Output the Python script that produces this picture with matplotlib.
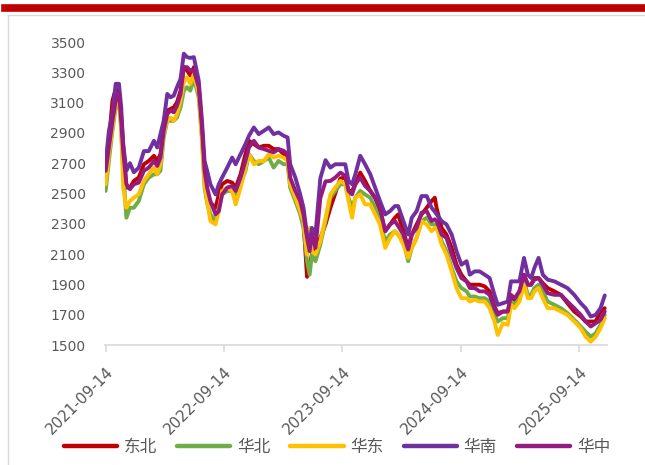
import numpy as np
import pandas as pd
import matplotlib
matplotlib.use("Agg")
import matplotlib.pyplot as plt
import matplotlib.dates as mdates
from matplotlib.lines import Line2D

# 日期（约每两周一个点）
dates = [
    "2021-09-14", "2021-09-24", "2021-10-05", "2021-10-15", "2021-10-25", "2021-11-01", "2021-11-07",
    "2021-11-17", "2021-11-28", "2021-12-10", "2021-12-25", "2022-01-10", "2022-01-25", "2022-02-10",
    "2022-02-20", "2022-03-02", "2022-03-12", "2022-03-23", "2022-04-02", "2022-04-12", "2022-04-22",
    "2022-05-03", "2022-05-13", "2022-05-23", "2022-06-02", "2022-06-13", "2022-06-28", "2022-07-08",
    "2022-07-16", "2022-07-24", "2022-08-03", "2022-08-19", "2022-08-29", "2022-09-08", "2022-09-24",
    "2022-10-09", "2022-10-20", "2022-11-04", "2022-11-19", "2022-11-30", "2022-12-15", "2022-12-30",
    "2023-01-15", "2023-01-30", "2023-02-14", "2023-03-01", "2023-03-17", "2023-03-29", "2023-04-06",
    "2023-04-22", "2023-05-07", "2023-05-17", "2023-05-28", "2023-06-05", "2023-06-12", "2023-06-23",
    "2023-07-08", "2023-07-24", "2023-08-08", "2023-08-23", "2023-09-08", "2023-09-23", "2023-10-03",
    "2023-10-14", "2023-10-24", "2023-11-08", "2023-11-23", "2023-12-09", "2023-12-24", "2024-01-08",
    "2024-01-24", "2024-02-08", "2024-02-23", "2024-03-04", "2024-03-20", "2024-04-04", "2024-04-15",
    "2024-04-30", "2024-05-15", "2024-05-31", "2024-06-15", "2024-06-25", "2024-07-01", "2024-07-16",
    "2024-07-31", "2024-08-16", "2024-08-31", "2024-09-15", "2024-10-01", "2024-10-11", "2024-10-26",
    "2024-11-10", "2024-11-26", "2024-12-11", "2024-12-26", "2025-01-05", "2025-01-21", "2025-02-05",
    "2025-02-15", "2025-02-26", "2025-03-13", "2025-03-27", "2025-04-08", "2025-04-18", "2025-04-28",
    "2025-05-11", "2025-05-24", "2025-06-08", "2025-06-29", "2025-07-19", "2025-08-08", "2025-08-29",
    "2025-09-18", "2025-10-03", "2025-10-19", "2025-11-03", "2025-11-18", "2025-12-01",
]

dongbei = [
    2583, 2848, 3113, 3190, 3168, 3002, 2826, 2539, 2539, 2583, 2605, 2693, 2715, 2749, 2715, 2760,
    2936, 3047, 3058, 3069, 3102, 3179, 3334, 3312, 3279, 3334, 3179, 2914, 2627, 2517, 2439, 2406,
    2494, 2561, 2583, 2572, 2539, 2627, 2760, 2848, 2826, 2804, 2815, 2815, 2793, 2793, 2760, 2737,
    2583, 2494, 2406, 2318, 1950, 2030, 2097, 2141,
    2207, 2296, 2406, 2500, 2600, 2605, 2517, 2517, 2561, 2638, 2583, 2517, 2472, 2384, 2251, 2296,
    2340, 2362, 2251, 2141, 2229, 2296, 2362, 2406, 2450, 2472, 2400, 2273, 2229, 2141, 2030, 1964,
    1920, 1898, 1898, 1898, 1887, 1854, 1754, 1710, 1721, 1721, 1809, 1798, 1854, 1964, 1898, 1898,
    1942, 1942, 1909, 1876, 1854, 1831, 1776, 1721, 1688, 1655, 1655, 1655, 1721, 1743,
]
huabei = [
    2517, 2715, 2914, 3069, 3113, 2914, 2650, 2340, 2406, 2406, 2450, 2561, 2605, 2627, 2627, 2650,
    2870, 2980, 2980, 2980, 3002, 3069, 3179, 3202, 3179, 3257, 3135, 2870, 2539, 2439, 2362, 2318,
    2406, 2494, 2517, 2517, 2494, 2561, 2650, 2760, 2715, 2693, 2715, 2737, 2671, 2715, 2693, 2693,
    2539, 2450, 2362, 2273, 2053, 1964, 2097, 2053,
    2163, 2318, 2472, 2517, 2561, 2561, 2472, 2406, 2472, 2517, 2494, 2472, 2406, 2318, 2185, 2229,
    2251, 2229, 2185, 2053, 2141, 2207, 2318, 2340, 2296, 2296, 2296, 2185, 2119, 2008, 1920, 1876,
    1854, 1820, 1820, 1809, 1809, 1787, 1699, 1655, 1677, 1677, 1787, 1765, 1809, 1920, 1831, 1831,
    1876, 1898, 1854, 1787, 1765, 1743, 1710, 1666, 1622, 1588, 1555, 1577, 1633, 1699,
]
huadong = [
    2561, 2760, 2936, 3091, 3135, 2936, 2539, 2406, 2450, 2472, 2494, 2583, 2627, 2671, 2627, 2693,
    2892, 2980, 3002, 2980, 3025, 3113, 3235, 3268, 3224, 3290, 3157, 2848, 2561, 2450, 2318, 2296,
    2384, 2517, 2539, 2517, 2428, 2539, 2671, 2760, 2693, 2715, 2715, 2760, 2737, 2749, 2737, 2715,
    2561, 2472, 2384, 2318, 2097, 2273, 2119, 2097,
    2185, 2340, 2494, 2539, 2583, 2561, 2450, 2340, 2472, 2494, 2428, 2428, 2362, 2296, 2141, 2207,
    2251, 2229, 2163, 2075, 2141, 2207, 2318, 2296, 2251, 2273, 2273, 2163, 2097, 1986, 1876, 1809,
    1809, 1787, 1798, 1787, 1787, 1743, 1655, 1566, 1644, 1633, 1765, 1743, 1787, 1898, 1809, 1809,
    1854, 1876, 1809, 1743, 1743, 1721, 1699, 1655, 1611, 1555, 1522, 1555, 1611, 1677,
]
huanan = [
    2700, 2914, 3025, 3224, 3224, 3069, 2826, 2650, 2700, 2640, 2670, 2780, 2780, 2848, 2804, 2892,
    2980, 3157, 3135, 3146, 3202, 3257, 3423, 3400, 3395, 3400, 3246, 2980, 2715, 2650, 2561, 2494,
    2561, 2605, 2671, 2737, 2693, 2760, 2826, 2881, 2936, 2892, 2914, 2936, 2892, 2903, 2881, 2870,
    2693, 2605, 2494, 2406, 2229, 2185, 2273, 2229,
    2600, 2720, 2671, 2693, 2693, 2693, 2583, 2561, 2627, 2749, 2693, 2627, 2539, 2450, 2362, 2384,
    2417, 2417, 2318, 2229, 2340, 2384, 2483, 2483, 2406, 2380, 2362, 2318, 2296, 2229, 2119, 2030,
    2053, 1964, 1986, 1986, 1964, 1942, 1831, 1765, 1776, 1787, 1920, 1920, 1920, 2075, 1964, 1942,
    2008, 2075, 1964, 1931, 1920, 1898, 1876, 1831, 1776, 1743, 1688, 1699, 1743, 1827,
]
huazhong = [
    2650, 2804, 2980, 3113, 3168, 2980, 2782, 2561, 2528, 2561, 2572, 2650, 2671, 2715, 2682, 2737,
    2914, 3025, 3047, 3036, 3080, 3157, 3334, 3334, 3312, 3312, 3202, 2936, 2650, 2539, 2450, 2362,
    2384, 2494, 2539, 2550, 2517, 2605, 2715, 2804, 2848, 2804, 2793, 2782, 2771, 2793, 2782, 2760,
    2605, 2517, 2450, 2362, 2207, 2119, 2229, 2141,
    2470, 2580, 2583, 2605, 2638, 2616, 2517, 2494, 2561, 2605, 2550, 2517, 2472, 2406, 2251, 2296,
    2318, 2285, 2229, 2130, 2229, 2273, 2373, 2384, 2318, 2330, 2318, 2229, 2207, 2097, 2008, 1942,
    1920, 1876, 1876, 1854, 1854, 1831, 1743, 1699, 1721, 1721, 1831, 1809, 1854, 1964, 1898, 1898,
    1931, 1942, 1898, 1842, 1831, 1831, 1787, 1743, 1699, 1655, 1622, 1644, 1666, 1721,
]

names = ["东北", "华北", "华东", "华南", "华中"]
colors = ["#C00000", "#70AD47", "#FFC000", "#7030A0", "#951B81"]
tick_dates = ["2021-09-14", "2022-09-14", "2023-09-14", "2024-09-14", "2025-09-14"]

x = pd.to_datetime(dates)
series = [dongbei, huabei, huadong, huanan, huazhong]

fig = plt.figure(figsize=(6.45, 4.65), dpi=100)
ax = fig.add_axes([105 / 645, 1 - 345 / 465, (607 - 105) / 645, (345 - 42) / 465])

for vals, name, c in zip(series, names, colors):
    ax.plot(x, vals, color=c, lw=2.8, label=name, solid_joinstyle="round", solid_capstyle="round")

ax.set_ylim(1500, 3500)
ax.set_yticks(np.arange(1500, 3501, 200))
ax.set_xlim(pd.Timestamp("2021-09-12"), pd.Timestamp("2025-12-08"))
ax.set_xticks(pd.to_datetime(tick_dates))
ax.xaxis.set_major_formatter(mdates.DateFormatter("%Y-%m-%d"))

for s in ["top", "right", "left"]:
    ax.spines[s].set_visible(False)
ax.spines["bottom"].set_color("#D9D9D9")
ax.spines["bottom"].set_linewidth(1.2)
ax.tick_params(axis="y", length=0, pad=14, labelsize=10, labelcolor="#595959")
ax.tick_params(axis="x", length=5, width=1.2, color="#D9D9D9", labelsize=11,
               labelcolor="#595959", pad=9)
for lab in ax.get_xticklabels():
    lab.set_rotation(45)
    lab.set_ha("right")
    lab.set_rotation_mode("anchor")

leg = fig.legend(loc="center", bbox_to_anchor=(337 / 645, 1 - 447 / 465), ncol=5, frameon=False,
                 prop={"family": ["Noto Sans CJK SC", "DejaVu Sans"], "size": 12},
                 handlelength=3.2, handletextpad=0.4, columnspacing=1.2, labelcolor="#595959")
for h in leg.get_lines():
    h.set_linewidth(3.2)

# 顶部红条和外框
fig.add_artist(Line2D([5 / 645, 1], [1 - 8.5 / 465] * 2, color="#C00000", lw=5.5,
                      transform=fig.transFigure))
fig.add_artist(Line2D([7.5 / 645, 1], [1 - 15 / 465] * 2, color="#D9D9D9", lw=1,
                      transform=fig.transFigure))
fig.add_artist(Line2D([7.5 / 645] * 2, [0, 1 - 15 / 465], color="#D9D9D9", lw=1,
                      transform=fig.transFigure))

fig.savefig("out.png", dpi=100)
